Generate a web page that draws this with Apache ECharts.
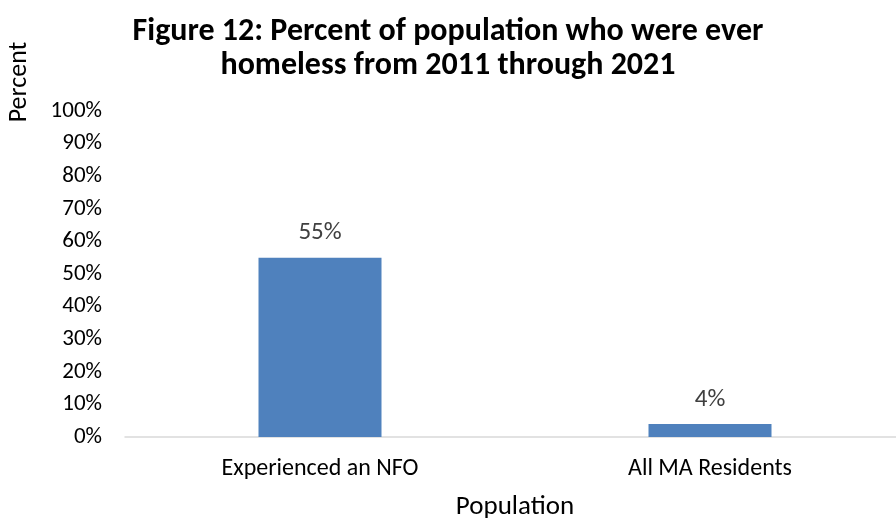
<!DOCTYPE html>
<html><head><meta charset="utf-8">
<script src="https://cdn.jsdelivr.net/npm/echarts@6/dist/echarts.min.js"></script>
<style>html,body{margin:0;padding:0;background:#fff;overflow:hidden}#c{width:896px;height:521px}</style>
</head><body><div id="c"></div>
<script>
const categories = ['Experienced an NFO', 'All MA Residents'];
const values = [55, 4];
const yTicks = [0, 10, 20, 30, 40, 50, 60, 70, 80, 90, 100];
const titleText = 'Figure 12: Percent of population who were ever\nhomeless from 2011 through 2021';
const FONT = 'Carlito, Calibri, Lato, sans-serif';

const chart = echarts.init(document.getElementById('c'));
chart.setOption({
  animation: false,
  textStyle: { fontFamily: FONT },
  title: {
    text: titleText, left: 443, top: 10, textAlign: 'center',
    textStyle: { fontFamily: FONT, fontSize: 32, fontWeight: 'bold', color: '#000', lineHeight: 34 }
  },
  grid: { left: 125, top: 111, width: 780, bottom: 84, containLabel: false, outerBoundsMode: 'none' },
  xAxis: {
    type: 'category', data: categories,
    name: 'Population', nameLocation: 'middle', nameGap: 57,
    nameTextStyle: { fontFamily: FONT, fontSize: 27, color: '#000' },
    axisLine: { lineStyle: { color: '#d9d9d9', width: 1.5 } },
    axisTick: { show: false },
    axisLabel: { fontFamily: FONT, fontSize: 24, color: '#000', margin: 20 }
  },
  yAxis: {
    type: 'value', min: 0, max: 100, interval: 10,
    axisLine: { show: false }, axisTick: { show: false },
    splitLine: { show: false },
    axisLabel: { fontFamily: FONT, fontSize: 23, color: '#000', margin: 23,
      formatter: v => yTicks.includes(v) ? v + '%' : '' }
  },
  graphic: [{
    type: 'text', x: 19, y: 82, rotation: Math.PI / 2,
    style: { text: 'Percent', fontFamily: FONT, fontSize: 26, fill: '#000', align: 'center', verticalAlign: 'middle' }
  }],
  series: [{
    type: 'bar', data: values, barWidth: 123,
    itemStyle: { color: '#4f81bd' },
    label: { show: true, position: 'top', distance: 12, formatter: '{c}%',
      fontFamily: FONT, fontSize: 25, color: '#404040' }
  }]
});
</script></body></html>
